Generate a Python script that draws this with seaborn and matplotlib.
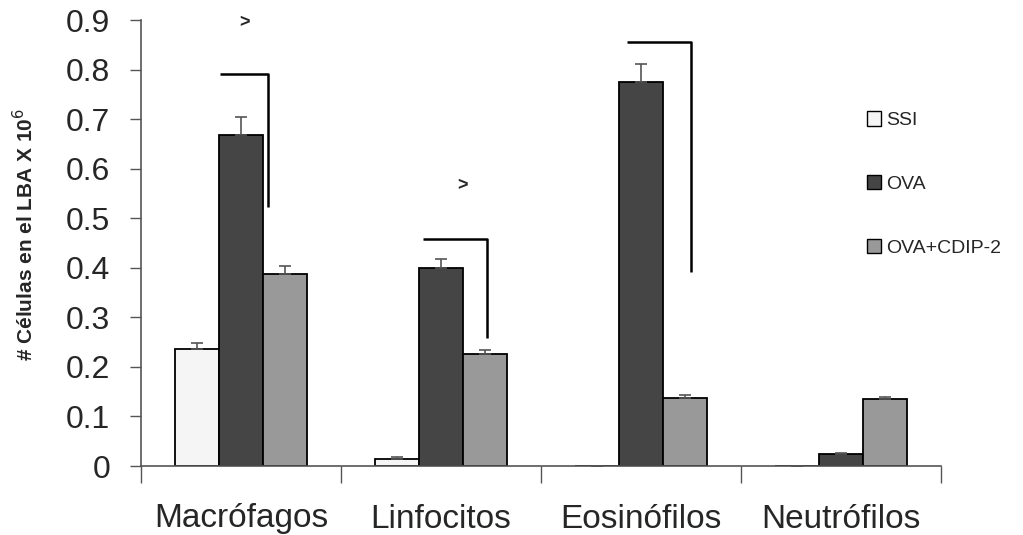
import numpy as np
import pandas as pd
import matplotlib
matplotlib.use("Agg")
import matplotlib.pyplot as plt
import seaborn as sns
from matplotlib.patches import Patch

categories = ["Macrófagos", "Linfocitos", "Eosinófilos", "Neutrófilos"]
groups = ["SSI", "OVA", "OVA+CDIP-2"]
ssi = [0.236, 0.015, 0.0, 0.0]
ova = [0.668, 0.400, 0.775, 0.024]
cdip = [0.387, 0.226, 0.137, 0.135]
ssi_err = [0.012, 0.003, 0.0, 0.0]
ova_err = [0.036, 0.018, 0.036, 0.003]
cdip_err = [0.016, 0.008, 0.006, 0.005]
colors = ["#f5f5f5", "#454545", "#999999"]

# significance brackets: (category index, x-left offset, x-right offset, y-top, y-bottom)
brackets = [(0, -0.105, 0.135, 0.791, 0.523),
            (1, -0.09, 0.23, 0.458, 0.258),
            (2, -0.07, 0.25, 0.855, 0.391)]
marks = [(0, 0.02, 0.895), (1, 0.11, 0.565)]

df = pd.DataFrame({
    "cat": sum([[c] * 3 for c in categories], []),
    "grp": groups * 4,
    "val": sum([[a, b, c] for a, b, c in zip(ssi, ova, cdip)], []),
})
errs = {"SSI": ssi_err, "OVA": ova_err, "OVA+CDIP-2": cdip_err}

sns.set_style("white")
plt.rcParams["font.family"] = ["Liberation Sans", "DejaVu Sans"]

fig = plt.figure(figsize=(10.23, 5.35), dpi=100)
ax = fig.add_axes([141 / 1023, 1 - 466 / 535, 800 / 1023, 446 / 535])

sns.barplot(data=df, x="cat", y="val", hue="grp", order=categories, hue_order=groups,
            palette=colors, width=0.66, gap=0, errorbar=None, edgecolor="black",
            linewidth=1.3, legend=False, ax=ax)

for cont, g in zip(ax.containers, groups):
    for rect, e in zip(cont.patches, errs[g]):
        xc = rect.get_x() + rect.get_width() / 2
        h = rect.get_height()
        ax.errorbar([xc], [h], yerr=[[0], [e]], fmt="none", ecolor="#555555",
                    elinewidth=1.2, capsize=4.5, capthick=1.2, zorder=3)

for i, xl, xr, yt, yb in brackets:
    ax.plot([i + xl, i + xr, i + xr], [yt, yt, yb], color="black", lw=1.8,
            solid_capstyle="butt", zorder=4)
for i, dx, y in marks:
    ax.text(i + dx, y, ">", ha="center", va="center", fontsize=13, fontweight="bold")

ax.set_xlim(-0.5, 3.5)
ax.set_ylim(0, 0.9)
ax.set_yticks(np.arange(0, 0.91, 0.1))
ax.set_yticklabels(["0"] + [f"{v:.1f}" for v in np.arange(0.1, 0.91, 0.1)], fontsize=23)
ax.set_xticks(np.arange(-0.5, 3.6, 1.0))
ax.set_xticklabels([])
ax.tick_params(axis="x", which="major", direction="out", length=12, width=1, color="#555555", bottom=True)
ax.set_xticks(range(4), minor=True)
ax.set_xticklabels(categories, minor=True, fontsize=24)
ax.tick_params(axis="x", which="minor", length=0, pad=27)
ax.tick_params(axis="y", direction="out", length=8, width=1, color="#555555", left=True, pad=14)

for s in ["top", "right"]:
    ax.spines[s].set_visible(False)
for s in ["left", "bottom"]:
    ax.spines[s].set_color("#555555")
    ax.spines[s].set_linewidth(1.2)

ax.set_xlabel("")
ax.set_ylabel("# Células en el LBA X 10$^6$", fontsize=15, fontweight="bold")
ax.yaxis.set_label_coords(-104 / 800, 0.52)

handles = [Patch(facecolor=c, edgecolor="black", linewidth=1) for c in colors]
fig.legend(handles, groups, loc="upper left", bbox_to_anchor=(849 / 1023, 1 - 94 / 535),
           frameon=False, fontsize=14, labelspacing=2.35, handlelength=0.75, handleheight=0.75,
           handletextpad=0.25)

fig.savefig("out.png", dpi=100)
